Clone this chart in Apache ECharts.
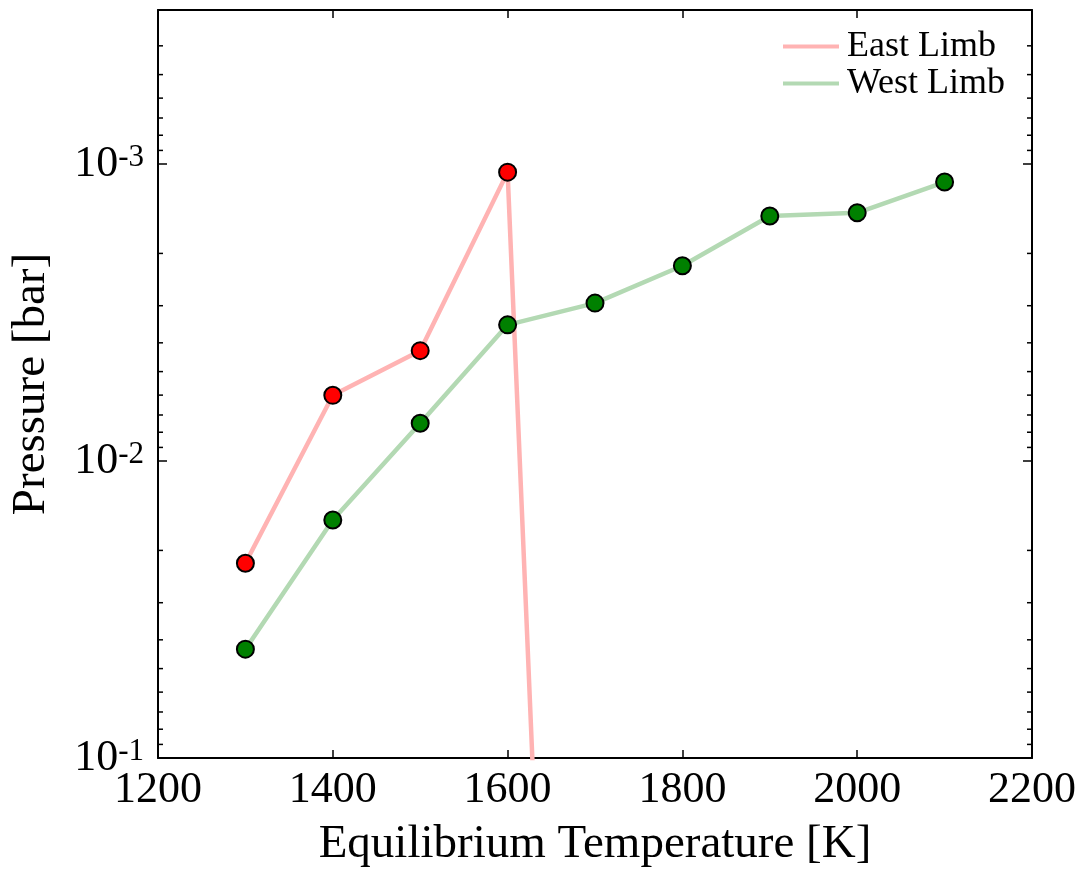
<!DOCTYPE html>
<html>
<head>
<meta charset="utf-8">
<title>Pressure vs Equilibrium Temperature</title>
<script src="https://cdn.jsdelivr.net/npm/echarts@6/dist/echarts.min.js"></script>
<style>
  html, body { margin: 0; padding: 0; background: #fff; }
  #chart { width: 1088px; height: 873px; }
</style>
</head>
<body>
<div id="chart"></div>
<script>
// Equilibrium temperatures [K]
const temperatures = [1300, 1400, 1500, 1600, 1700, 1800, 1900, 2000, 2100];
// Pressure levels [bar] for each limb
const eastLimb = [0.0221, 0.00601, 0.00425, 0.001065, 1e4];
const westLimb = [0.0430, 0.0158, 0.00746, 0.00348, 0.00294, 0.00220, 0.001496, 0.00146, 0.00115];
// Axis settings
const xTicks = [1200, 1400, 1600, 1800, 2000, 2200];
const pressureRange = [3.03e-4, 0.1];
const minorTickValues = [
  4e-4, 5e-4, 6e-4, 7e-4, 8e-4, 9e-4,
  2e-3, 3e-3, 4e-3, 5e-3, 6e-3, 7e-3, 8e-3, 9e-3,
  2e-2, 3e-2, 4e-2, 5e-2, 6e-2, 7e-2, 8e-2, 9e-2
];

const FONT = '"Liberation Serif", "DejaVu Serif", serif';
const pairs = (xs, ys) => ys.map((y, i) => [xs[i], y]);

const chart = echarts.init(document.getElementById('chart'), null, { renderer: 'canvas' });

function powerLabel(v) {
  const lg = Math.log10(v);
  const e = Math.round(lg);
  if (Math.abs(lg - e) > 1e-6) return '';
  return '{b|10}{s|' + e + '}';
}

const yBase = {
  type: 'log',
  logBase: 10,
  inverse: true,
  min: pressureRange[0],
  max: pressureRange[1],
  splitLine: { show: false },
  axisLine: { show: true, lineStyle: { color: '#000', width: 2 } },
  axisTick: { show: true, inside: true, length: 9, lineStyle: { color: '#000', width: 1.5 } },
  minorTick: { show: false }
};

const xBase = {
  type: 'value',
  min: xTicks[0],
  max: xTicks[xTicks.length - 1],
  interval: 200,
  splitLine: { show: false },
  axisLine: { show: true, onZero: false, lineStyle: { color: '#000', width: 2 } },
  axisTick: { show: true, inside: true, length: 8, lineStyle: { color: '#000', width: 1.5 } }
};

const option = {
  backgroundColor: '#fff',
  animation: false,
  grid: { left: 157, top: 10, right: 56, bottom: 112, containLabel: false },
  legend: {
    orient: 'vertical',
    left: 778,
    top: 23,
    itemWidth: 56,
    itemHeight: 4,
    itemGap: 0,
    textStyle: { fontFamily: FONT, fontSize: 36, color: '#000', lineHeight: 37, padding: [0, 0, 0, 3] },
    data: [
      { name: 'East Limb', icon: 'rect', itemStyle: { color: '#ffb3b3', borderWidth: 0 } },
      { name: 'West Limb', icon: 'rect', itemStyle: { color: '#b3d9b3', borderWidth: 0 } }
    ]
  },
  xAxis: [
    Object.assign({}, xBase, {
      position: 'bottom',
      name: 'Equilibrium Temperature [K]',
      nameLocation: 'middle',
      nameGap: 63,
      nameTextStyle: { fontFamily: FONT, fontSize: 47, color: '#000' },
      axisLabel: {
        show: true, margin: 10, fontFamily: FONT, fontSize: 44, color: '#000',
        formatter: v => String(v)
      }
    }),
    Object.assign({}, xBase, { position: 'top', axisLabel: { show: false } })
  ],
  yAxis: [
    Object.assign({}, yBase, {
      position: 'left',
      name: 'Pressure [bar]',
      nameLocation: 'middle',
      nameGap: 103,
      nameTextStyle: { fontFamily: FONT, fontSize: 47, color: '#000' },
      axisLabel: {
        show: true,
        margin: 14,
        formatter: powerLabel,
        rich: {
          b: { fontFamily: FONT, fontSize: 44, color: '#000', verticalAlign: 'bottom' },
          s: { fontFamily: FONT, fontSize: 31, color: '#000', verticalAlign: 'top' }
        }
      }
    }),
    Object.assign({}, yBase, { position: 'right', axisLabel: { show: false } })
  ],
  series: [
    {
      name: 'East Limb',
      type: 'line',
      xAxisIndex: 0,
      yAxisIndex: 0,
      data: pairs(temperatures, eastLimb),
      clip: true,
      symbol: 'circle',
      symbolSize: 17,
      itemStyle: { color: '#ff0000', borderColor: '#000', borderWidth: 2 },
      lineStyle: { color: '#ffb3b3', width: 4.5 },
      z: 3
    },
    {
      name: 'West Limb',
      type: 'line',
      xAxisIndex: 0,
      yAxisIndex: 0,
      data: pairs(temperatures, westLimb),
      clip: true,
      symbol: 'circle',
      symbolSize: 17,
      itemStyle: { color: '#008000', borderColor: '#000', borderWidth: 2 },
      lineStyle: { color: '#b3d9b3', width: 4.5 },
      z: 4
    },
    {
      // log-axis minor ticks (2..9 of each decade) on both sides of the frame
      name: 'minorTicks',
      type: 'custom',
      xAxisIndex: 0,
      yAxisIndex: 0,
      silent: true,
      clip: false,
      data: minorTickValues.map(v => [xTicks[0], v]),
      renderItem: function (params, api) {
        const cs = params.coordSys;
        const y = api.coord([xTicks[0], api.value(1)])[1];
        const style = { stroke: '#000', lineWidth: 1.5 };
        return {
          type: 'group',
          children: [
            { type: 'line', shape: { x1: cs.x, y1: y, x2: cs.x + 5, y2: y }, style: style },
            { type: 'line', shape: { x1: cs.x + cs.width - 5, y1: y, x2: cs.x + cs.width, y2: y }, style: style }
          ]
        };
      },
      z: 5
    }
  ]
};

chart.setOption(option);
</script>
</body>
</html>
